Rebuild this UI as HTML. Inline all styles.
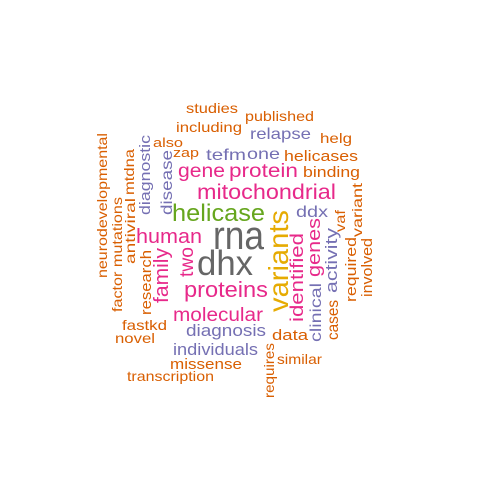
<!DOCTYPE html>
<html><head><meta charset="utf-8"><style>
html,body{margin:0;padding:0;background:#fff;width:480px;height:480px;overflow:hidden}
svg{display:block}
text{font-family:"Liberation Sans",Arial,sans-serif}
</style></head><body>
<svg id="cloud" width="480" height="480" viewBox="0 0 480 480"></svg>
<script>
var O="#D95F02",P="#7570B3",M="#E7298A",G="#66A61E",Y="#E6AB02",K="#666666";
// horizontal: word, x1, x2, baseline, size, color
var horiz=[
["studies",186,238,113,14,O],["published",245,314,121,14,O],["including",176,242,132,14,O],
["also",153,183,147,13,O],["zap",173,199,157,13,O],["relapse",250,311,139,16,P],
["helg",320,352,143,14,O],["tefm",206,246,160,16,P],["one",247,280,159,16,P],
["helicases",284,358,161,15,O],["gene",178,225,177,19,M],["protein",229,298,177,19,M],
["binding",303,360,177,15,O],["mitochondrial",197,336,199,21,M],["helicase",172,265,221,24,G],
["ddx",296,328,217,16,P],["human",136,202,243,20,M],["rna",213,264,249,40,K],
["dhx",197,253,275,35,K],["proteins",184,268,297,22,M],["molecular",173,263,321,19,M],
["diagnosis",186,266,336,17,P],["data",272,308,340,15,O],["fastkd",122,167,330,14,O],
["novel",115,155,343,14,O],["individuals",173,258,355,17,P],["missense",170,242,369,15,O],
["similar",277,322,364,14,O],["transcription",127,214,381,14,O]];
// vertical: word, baselineX, yTop, yBottom, size, color
var vert=[
["neurodevelopmental",107,133,278,14,O],["factor mutations",122,197,312,14,O],
["antiviral",135,198,264,14,O],["mtdna",134,149,195,14,O],["diagnostic",150,135,215,15,P],
["disease",172,150,215,16,P],["research",151,250,315,15,O],["family",168,248,303,20,M],
["two",193,247,277,19,M],["variants",288,210,312,28,Y],["identified",303,233,322,18,M],
["genes",320,218,277,18,M],["clinical",321,283,342,16,P],["activity",337,228,293,17,P],
["cases",338,300,340,16,O],["vaf",345,210,232,14,O],["required",356,237,302,15,O],
["variant",362,183,237,14,O],["involved",372,238,297,15,O],["requires",274,343,398,14,O]];
var svg=document.getElementById('cloud'),NS="http://www.w3.org/2000/svg";
horiz.forEach(function(w){
  var t=document.createElementNS(NS,'text');
  t.setAttribute('x',w[1]);t.setAttribute('y',w[3]);
  t.setAttribute('font-size',w[4]);t.setAttribute('fill',w[5]);
  t.setAttribute('textLength',w[2]-w[1]);t.setAttribute('lengthAdjust','spacingAndGlyphs');
  t.textContent=w[0];
  
  
  svg.appendChild(t);
});
vert.forEach(function(w){
  var t=document.createElementNS(NS,'text');
  t.setAttribute('x',0);t.setAttribute('y',0);
  t.setAttribute('transform','translate('+w[1]+','+w[3]+') rotate(-90)');
  t.setAttribute('font-size',w[4]);t.setAttribute('fill',w[5]);
  t.setAttribute('textLength',w[3]-w[2]);t.setAttribute('lengthAdjust','spacingAndGlyphs');
  t.textContent=w[0];
  
  
  svg.appendChild(t);
});
</script>
</body></html>
